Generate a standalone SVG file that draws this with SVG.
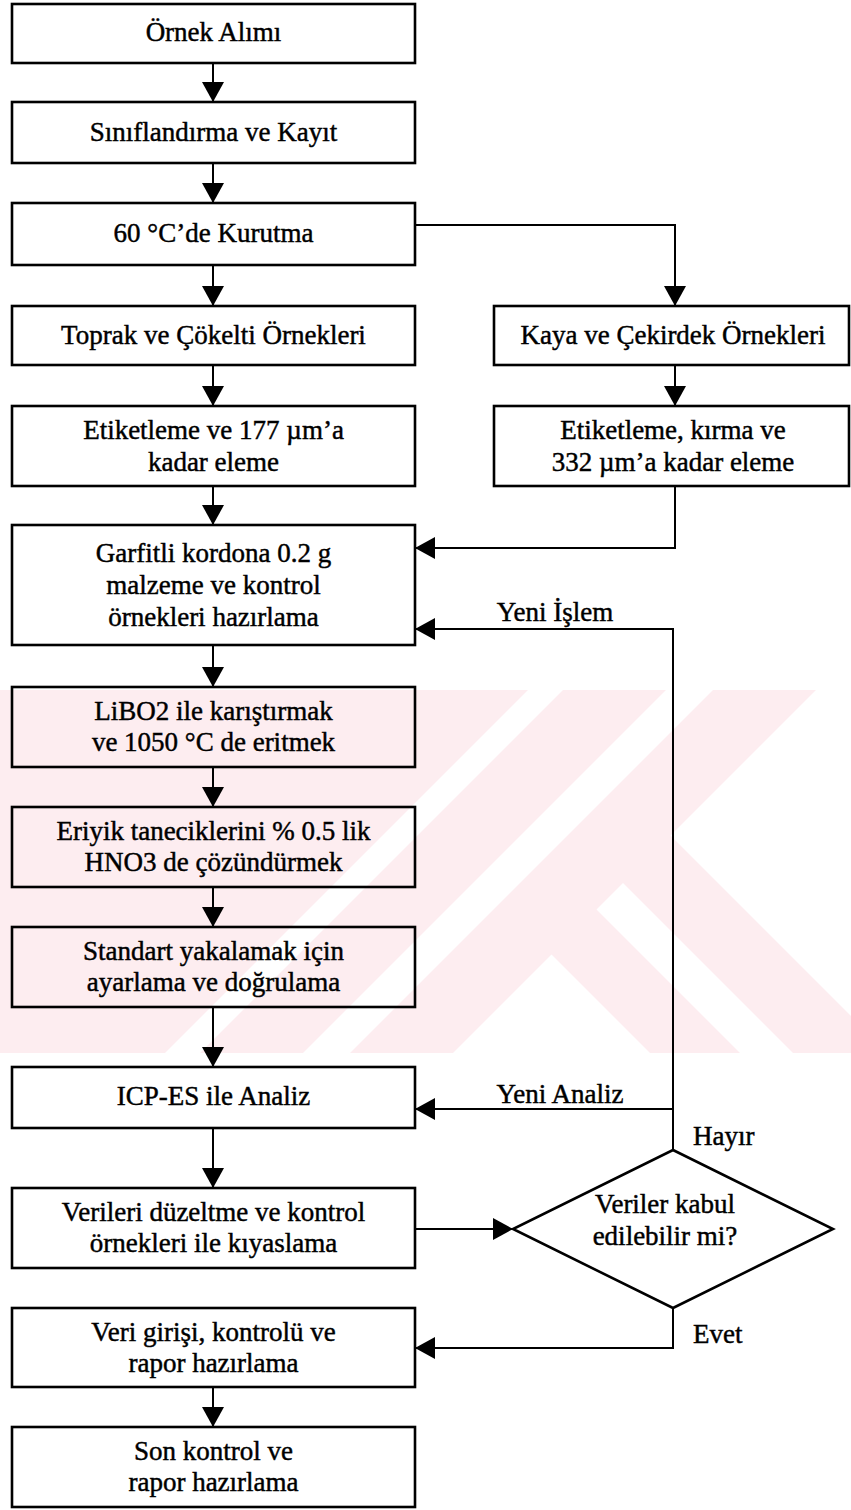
<svg xmlns="http://www.w3.org/2000/svg" width="851" height="1510" viewBox="0 0 851 1510">
  <style>
    .box { fill: none; stroke: #000; stroke-width: 2.6; }
    .conn { fill: none; stroke: #000; stroke-width: 2; }
    text { font-family: "Liberation Serif", "Times New Roman", serif; font-size: 27px; fill: #000; stroke: #000; stroke-width: 0.45; }
    .c { text-anchor: middle; }
    .wm { fill: #fdedf0; }
    .wmw { fill: #ffffff; }
  </style>
  <defs>
    <marker id="ah" viewBox="0 0 20 22" refX="20" refY="11" markerWidth="20" markerHeight="22" markerUnits="userSpaceOnUse" orient="auto">
      <path d="M0,0 L20,11 L0,22 z" fill="#000"/>
    </marker>
  </defs>
  <rect x="0" y="0" width="851" height="1510" fill="#fff"/>
  <g id="watermark">
    <rect class="wm" x="0" y="690" width="851" height="363"/>
    <polygon class="wmw" points="528,690 563,690 200,1053 165,1053"/>
    <polygon class="wmw" points="666,690 713,690 350,1053 303,1053"/>
    <polygon class="wmw" points="816,690 851,690 851,1016 670.5,835.5"/>
    <polygon class="wmw" points="623,883 793,1053 740,1053 596.5,909.5"/>
    <polygon class="wmw" points="551.5,954.5 650,1053 453,1053"/>
  </g>
  <g id="connectors">
    <path class="conn" d="M213,63 V102" marker-end="url(#ah)"/>
    <path class="conn" d="M213,163 V203" marker-end="url(#ah)"/>
    <path class="conn" d="M415,225 H675 V306" marker-end="url(#ah)"/>
    <path class="conn" d="M213,265 V306" marker-end="url(#ah)"/>
    <path class="conn" d="M675,365 V406" marker-end="url(#ah)"/>
    <path class="conn" d="M213,365 V406" marker-end="url(#ah)"/>
    <path class="conn" d="M213,486 V525" marker-end="url(#ah)"/>
    <path class="conn" d="M675,486 V548 H415" marker-end="url(#ah)"/>
    <path class="conn" d="M213,645 V687" marker-end="url(#ah)"/>
    <path class="conn" d="M213,767 V807" marker-end="url(#ah)"/>
    <path class="conn" d="M213,887 V927" marker-end="url(#ah)"/>
    <path class="conn" d="M213,1007 V1067" marker-end="url(#ah)"/>
    <path class="conn" d="M213,1128 V1188" marker-end="url(#ah)"/>
    <path class="conn" d="M415,1229 H513" marker-end="url(#ah)"/>
    <path class="conn" d="M673,1150 V629 H415" marker-end="url(#ah)"/>
    <path class="conn" d="M673,1109 H415" marker-end="url(#ah)"/>
    <path class="conn" d="M673,1308 V1348 H415" marker-end="url(#ah)"/>
    <path class="conn" d="M213,1387 V1427" marker-end="url(#ah)"/>
    <text class="c" x="555" y="621">Yeni İşlem</text>
    <text class="c" x="560" y="1103">Yeni Analiz</text>
    <text x="693" y="1145">Hayır</text>
    <text x="693" y="1343">Evet</text>
  </g>
  <g id="n1"><rect class="box" x="12" y="4" width="403" height="59"/><text class="c" x="213.5" y="41">Örnek Alımı</text></g>
  <g id="n2"><rect class="box" x="12" y="102" width="403" height="61"/><text class="c" x="213.5" y="141">Sınıflandırma ve Kayıt</text></g>
  <g id="n3"><rect class="box" x="12" y="203" width="403" height="62"/><text class="c" x="213.5" y="242">60 °C’de Kurutma</text></g>
  <g id="n4"><rect class="box" x="12" y="306" width="403" height="59"/><text class="c" x="213.5" y="344">Toprak ve Çökelti Örnekleri</text></g>
  <g id="n5"><rect class="box" x="494" y="306" width="355" height="59"/><text class="c" x="673" y="344">Kaya ve Çekirdek Örnekleri</text></g>
  <g id="n6"><rect class="box" x="12" y="406" width="403" height="80"/><text class="c" x="213.5" y="439">Etiketleme ve 177 µm’a</text><text class="c" x="213.5" y="471">kadar eleme</text></g>
  <g id="n7"><rect class="box" x="494" y="406" width="355" height="80"/><text class="c" x="673" y="439">Etiketleme, kırma ve</text><text class="c" x="673" y="471">332 µm’a kadar eleme</text></g>
  <g id="n8"><rect class="box" x="12" y="525" width="403" height="120"/><text class="c" x="213.5" y="562">Garfitli kordona 0.2 g</text><text class="c" x="213.5" y="594">malzeme ve kontrol</text><text class="c" x="213.5" y="626">örnekleri hazırlama</text></g>
  <g id="n9"><rect class="box" x="12" y="687" width="403" height="80"/><text class="c" x="213.5" y="720">LiBO2 ile karıştırmak</text><text class="c" x="213.5" y="751">ve 1050 °C de eritmek</text></g>
  <g id="n10"><rect class="box" x="12" y="807" width="403" height="80"/><text class="c" x="213.5" y="840">Eriyik taneciklerini % 0.5 lik</text><text class="c" x="213.5" y="871">HNO3 de çözündürmek</text></g>
  <g id="n11"><rect class="box" x="12" y="927" width="403" height="80"/><text class="c" x="213.5" y="960">Standart yakalamak için</text><text class="c" x="213.5" y="991">ayarlama ve doğrulama</text></g>
  <g id="n12"><rect class="box" x="12" y="1067" width="403" height="61"/><text class="c" x="213.5" y="1105">ICP-ES ile Analiz</text></g>
  <g id="n13"><rect class="box" x="12" y="1188" width="403" height="80"/><text class="c" x="213.5" y="1221">Verileri düzeltme ve kontrol</text><text class="c" x="213.5" y="1252">örnekleri ile kıyaslama</text></g>
  <g id="n14"><polygon class="box" points="673,1150 833,1229 673,1308 513,1229"/><text class="c" x="665" y="1213">Veriler kabul</text><text class="c" x="665" y="1245">edilebilir mi?</text></g>
  <g id="n15"><rect class="box" x="12" y="1308" width="403" height="79"/><text class="c" x="213.5" y="1341">Veri girişi, kontrolü ve</text><text class="c" x="213.5" y="1372">rapor hazırlama</text></g>
  <g id="n16"><rect class="box" x="12" y="1427" width="403" height="80"/><text class="c" x="213.5" y="1460">Son kontrol ve</text><text class="c" x="213.5" y="1491">rapor hazırlama</text></g>
</svg>
